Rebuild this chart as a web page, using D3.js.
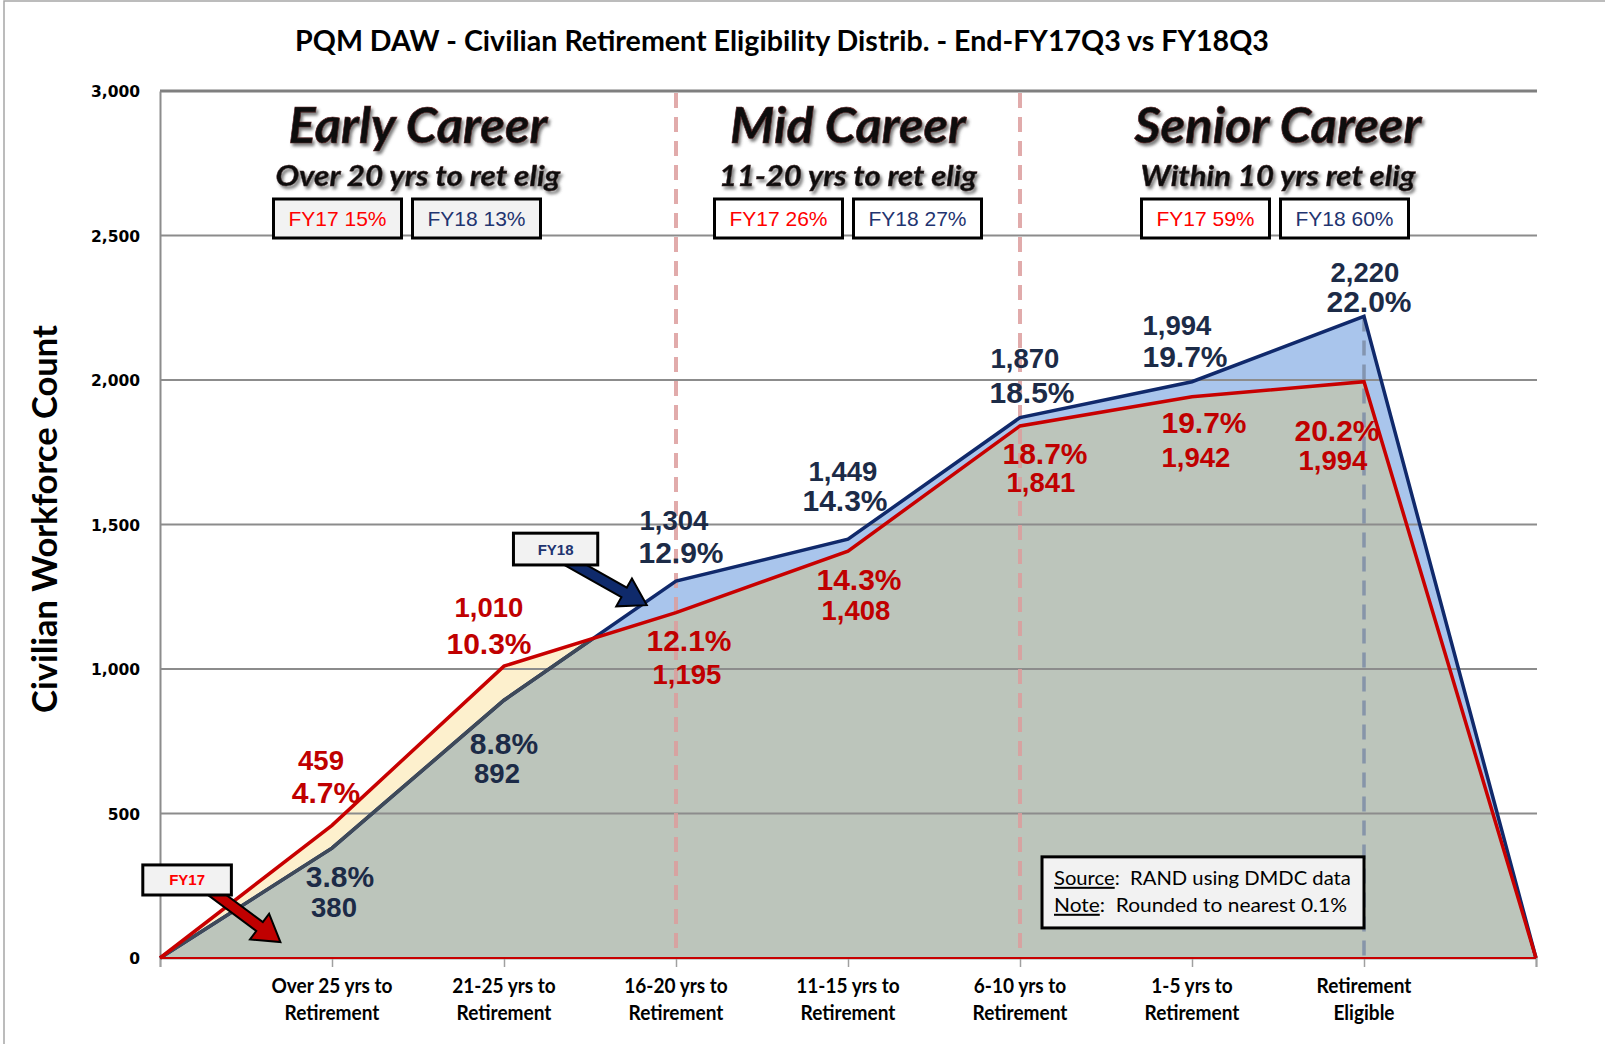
<!DOCTYPE html>
<html><head><meta charset="utf-8">
<script src="https://cdn.jsdelivr.net/npm/d3@7"></script>
<style>
html,body{margin:0;padding:0;background:#fff;overflow:hidden}
text{white-space:pre}
</style></head>
<body><svg id="chart" width="1605" height="1044"></svg>
<script>
// ---------------- DATA ----------------
const title = "PQM DAW - Civilian Retirement Eligibility Distrib. - End-FY17Q3 vs FY18Q3";
const yAxisTitle = "Civilian Workforce Count";
const categoryLabels = [
  [], ["Over 25 yrs to", "Retirement"], ["21-25 yrs to", "Retirement"], ["16-20 yrs to", "Retirement"],
  ["11-15 yrs to", "Retirement"], ["6-10 yrs to", "Retirement"], ["1-5 yrs to", "Retirement"],
  ["Retirement", "Eligible"], []
];
const fy17Counts = [0, 459, 1010, 1195, 1408, 1841, 1942, 1994, 0];
const fy18Counts = [0, 380, 892, 1304, 1449, 1870, 1994, 2220, 0];
const fy17Pct = [null, 4.7, 10.3, 12.1, 14.3, 18.7, 19.7, 20.2, null];
const fy18Pct = [null, 3.8, 8.8, 12.9, 14.3, 18.5, 19.7, 22.0, null];
const yTicks = [0, 500, 1000, 1500, 2000, 2500, 3000];
const bandNames = ["Early Career", "Mid Career", "Senior Career"];
const bandSubtitles = ["Over 20 yrs to ret elig", "11-20 yrs to ret elig", "Within 10 yrs ret elig"];
const bandFY17Share = [15, 26, 59];
const bandFY18Share = [13, 27, 60];
const bandBounds = [[0, 3], [3, 5], [5, 8]];
const sourceLines = [["Source", ":  RAND using DMDC data"], ["Note", ":  Rounded to nearest 0.1%"]];

// ---------------- LAYOUT ----------------
const W = 1605, H = 1044;
const plot = {left: 160, right: 1536, top: 91, bottom: 958};
// label offsets [dxCount, dyCount, dxPct, dyPct] relative to point
const fy17LabelOff = [null, [-11,-55,-6,-22], [-15,-49,-15,-12], [11,71,13,38], [8,69,11,39], [21,66,25,38], [4,70,12,36], [-31,88,-27,59], null];
const fy18LabelOff = [null, [2,69,8,39], [-7,83,0,54], [-2,-51,5,-18], [-5,-58,-3,-28], [5,-50,12,-15], [-15,-47,-7,-15], [1,-34,5,-4], null];
const bandBoxShift = [-11, 0, -3];

const C = {
  gray: "#bcc5bb", blue: "#a9c5ec", cream: "#fdf0cd",
  navy: "#10296b", slate: "#3f4a59", red: "#c80000",
  lblNavy: "#1c2b47", lblRed: "#c00000", grid: "#8c8c8c"
};

const svg = d3.select("#chart");
const defs = svg.append("defs");

const x = d3.scalePoint().domain(d3.range(fy17Counts.length)).range([plot.left, plot.right]);
const xi = d3.scaleLinear().domain([0, fy17Counts.length - 1]).range([plot.left, plot.right]);
const y = d3.scaleLinear().domain([0, 3000]).range([plot.bottom, plot.top]);

// outer border
svg.append("rect").attr("x", 4).attr("y", 1).attr("width", W + 10).attr("height", H + 10)
  .attr("fill", "none").attr("stroke", "#a6a6a6").attr("stroke-width", 1.5);

// title
function squeeze(sel, target) {
  const w = sel.node().getComputedTextLength();
  const cx = +sel.attr("x");
  const s = target / w;
  sel.attr("transform", `translate(${cx},0) scale(${s},1) translate(${-cx},0)`);
}
const t = svg.append("text").attr("x", 782).attr("y", 51).attr("text-anchor", "middle")
  .attr("font-family", "Lato, sans-serif").attr("font-weight", 700).attr("font-size", 28)
  .attr("fill", "#000").text(title);
squeeze(t, 974);

// areas
const area = vals => d3.area().x((d, i) => x(i)).y0(y(0)).y1(d => y(d))(vals);
const line = vals => d3.line().x((d, i) => x(i)).y(d => y(d))(vals);

defs.append("clipPath").attr("id", "clip18").append("path").attr("d", area(fy18Counts));
defs.append("clipPath").attr("id", "clip17").append("path").attr("d", area(fy17Counts));

svg.append("path").attr("d", area(fy17Counts)).attr("fill", C.cream);
svg.append("path").attr("d", area(fy18Counts)).attr("fill", C.blue);
svg.append("path").attr("d", area(fy17Counts)).attr("fill", C.gray).attr("clip-path", "url(#clip18)");

// gridlines
svg.append("g").selectAll("line").data(yTicks.filter(v => v > 0)).join("line")
  .attr("x1", plot.left).attr("x2", plot.right + 1)
  .attr("y1", d => y(d)).attr("y2", d => y(d))
  .attr("stroke", d => d === 3000 ? "#7f7f7f" : C.grid)
  .attr("stroke-width", d => d === 3000 ? 3 : 2);

// y axis
const yAxis = d3.axisLeft(y).tickValues(yTicks).tickFormat(d3.format(",")).tickSize(0).tickPadding(20);
const ya = svg.append("g").attr("transform", `translate(${plot.left},0)`).call(yAxis);
ya.select(".domain").attr("stroke", "#8c8c8c").attr("stroke-width", 2);
ya.selectAll("text").attr("font-family", "DejaVu Sans, Verdana, sans-serif").attr("font-weight", 700)
  .attr("font-size", 15.5).attr("fill", "#000").attr("dy", "0.36em");

// x axis
const xAxis = d3.axisBottom(x).tickSize(9).tickFormat("");
const xa = svg.append("g").attr("transform", `translate(0,${plot.bottom})`).call(xAxis);
xa.select(".domain").attr("stroke", "#a0a0a0").attr("stroke-width", 2);
xa.selectAll(".tick line").attr("stroke", "#a0a0a0").attr("stroke-width", 1.5);

const xl = svg.append("g").selectAll("text").data(categoryLabels).join("text")
  .attr("x", (d, i) => x(i)).attr("y", 993).attr("text-anchor", "middle")
  .attr("font-family", "Lato, sans-serif").attr("font-weight", 700).attr("font-size", 20.5).attr("fill", "#000");
xl.selectAll("tspan").data(d => d).join("tspan")
  .attr("x", function () { return d3.select(this.parentNode).attr("x"); })
  .attr("dy", (d, j) => j === 0 ? 0 : 27).text(d => d);
xl.each(function(){ const s=d3.select(this); const cx=+s.attr("x"); s.attr("transform",`translate(${cx},0) scale(0.93,1) translate(${-cx},0)`); });

// y axis title
svg.append("text").attr("transform", "translate(57,519) rotate(-90)").attr("text-anchor", "middle")
  .attr("font-family", "Lato, sans-serif").attr("font-weight", 700).attr("font-size", 31)
  .attr("fill", "#000").text(yAxisTitle)
  .each(function () { const w = this.getComputedTextLength(); d3.select(this).attr("font-size", 31 * 388 / w); });

// dashed band separators
svg.append("g").selectAll("line").data(bandBounds.slice(1).map(b => b[0])).join("line")
  .attr("x1", d => x(d)).attr("x2", d => x(d)).attr("y1", y(3000) + 2).attr("y2", y(0))
  .attr("stroke", "#dc9c9c").attr("stroke-opacity", 0.85).attr("stroke-width", 4).attr("stroke-dasharray", "15,9");
// drop line at peak
const peakIdx = 7;
svg.append("line").attr("x1", x(peakIdx)).attr("x2", x(peakIdx)).attr("y1", y(fy18Counts[peakIdx])).attr("y2", y(0))
  .attr("stroke", "#7c8ca6").attr("stroke-opacity", 0.85).attr("stroke-width", 3.5).attr("stroke-dasharray", "15,9");

// lines
svg.append("path").attr("d", line(fy18Counts)).attr("fill", "none").attr("stroke", C.navy)
  .attr("stroke-width", 3.5).attr("stroke-linejoin", "miter");
svg.append("path").attr("d", line(fy18Counts)).attr("fill", "none").attr("stroke", C.slate)
  .attr("stroke-width", 3.5).attr("clip-path", "url(#clip17)");
svg.append("path").attr("d", line(fy17Counts)).attr("fill", "none").attr("stroke", C.red)
  .attr("stroke-width", 3.5).attr("stroke-linejoin", "miter");
svg.append("line").attr("x1", plot.left).attr("x2", plot.right).attr("y1", y(0)).attr("y2", y(0))
  .attr("stroke", C.red).attr("stroke-width", 2);

// data labels
function labels(counts, pcts, offs, color) {
  const g = svg.append("g").attr("font-family", "Liberation Sans, Arial, sans-serif").attr("font-weight", 700)
    .attr("fill", color).attr("text-anchor", "middle");
  counts.forEach((v, i) => {
    if (pcts[i] == null) return;
    const o = offs[i];
    g.append("text").attr("x", x(i) + o[0]).attr("y", y(v) + o[1]).attr("font-size", 27.5).text(d3.format(",")(v));
    g.append("text").attr("x", x(i) + o[2]).attr("y", y(v) + o[3]).attr("font-size", 30).text(pcts[i].toFixed(1) + "%");
  });
}
labels(fy18Counts, fy18Pct, fy18LabelOff, C.lblNavy);
labels(fy17Counts, fy17Pct, fy17LabelOff, C.lblRed);

// band headers
const shadow = defs.append("filter").attr("id", "shadow").attr("x", "-10%").attr("y", "-20%").attr("width", "120%").attr("height", "150%");
shadow.append("feDropShadow").attr("dx", 2).attr("dy", 3).attr("stdDeviation", 1.6).attr("flood-color", "#555").attr("flood-opacity", 0.75);

const headerW = [259, 236, 287], subW = [285, 258, 275];
bandNames.forEach((name, k) => {
  const cx = (x(bandBounds[k][0]) + x(bandBounds[k][1])) / 2;
  const h = svg.append("text").attr("x", cx).attr("y", 143).attr("text-anchor", "middle")
    .attr("font-family", "Lato, sans-serif").attr("font-weight", 700).attr("font-style", "italic")
    .attr("font-size", 49).attr("fill", "#111").attr("stroke", "#5a1a1a").attr("stroke-width", 0.6)
    .attr("filter", "url(#shadow)").text(name);
  squeeze(h, headerW[k]);
  const s = svg.append("text").attr("x", cx).attr("y", 186).attr("text-anchor", "middle")
    .attr("font-family", "Lato, sans-serif").attr("font-weight", 700).attr("font-style", "italic")
    .attr("font-size", 28).attr("fill", "#111").attr("stroke", "#3a1a1a").attr("stroke-width", 0.4)
    .attr("filter", "url(#shadow)").text(bandSubtitles[k]);
  squeeze(s, subW[k]);
  const bw = 128, gap = 11, bh = 39, by = 199;
  const pc = cx + bandBoxShift[k];
  const fill = k === 0 ? "#f2f2f2" : "#fff";
  [[`FY17 ${bandFY17Share[k]}%`, "#ff0000"], [`FY18 ${bandFY18Share[k]}%`, "#1f3470"]].forEach((b, j) => {
    const bx = j === 0 ? pc - gap / 2 - bw : pc + gap / 2;
    svg.append("rect").attr("x", bx).attr("y", by).attr("width", bw).attr("height", bh)
      .attr("fill", fill).attr("stroke", "#000").attr("stroke-width", 3);
    svg.append("text").attr("x", bx + bw / 2).attr("y", by + bh / 2 + 7.5).attr("text-anchor", "middle")
      .attr("font-family", "Liberation Sans, Arial, sans-serif").attr("font-size", 21).attr("fill", b[1]).text(b[0]);
  });
});

// callout arrows
function arrowPts(x1, y1, x2, y2, sw, hw, hl) {
  const dx = x2 - x1, dy = y2 - y1, L = Math.hypot(dx, dy), ux = dx / L, uy = dy / L, px = -uy, py = ux;
  const bx = x2 - ux * hl, by = y2 - uy * hl;
  return [[x1 + px * sw / 2, y1 + py * sw / 2], [bx + px * sw / 2, by + py * sw / 2], [bx + px * hw / 2, by + py * hw / 2],
    [x2, y2], [bx - px * hw / 2, by - py * hw / 2], [bx - px * sw / 2, by - py * sw / 2], [x1 - px * sw / 2, y1 - py * sw / 2]];
}
const callouts = [
  {label: "FY17", color: "#ff0000", fill: "#c00000", box: [-0.1, 0.415, 322, 218], from: [0.26, 250], to: [0.70, 55]},
  {label: "FY18", color: "#1f3470", fill: "#0f2a6b", box: [2.055, 2.545, 1470, 1360], from: [2.355, 1380], to: [2.83, 1221]}
];
callouts.forEach(c => {
  const pts = arrowPts(xi(c.from[0]), y(c.from[1]), xi(c.to[0]), y(c.to[1]), 11, 32, 26);
  svg.append("polygon").attr("points", pts.map(p => p.join(",")).join(" "))
    .attr("fill", c.fill).attr("stroke", "#000").attr("stroke-width", 2).attr("stroke-linejoin", "miter");
  const bx0 = xi(c.box[0]), bx1 = xi(c.box[1]), by0 = y(c.box[2]), by1 = y(c.box[3]);
  svg.append("rect").attr("x", bx0).attr("y", by0).attr("width", bx1 - bx0).attr("height", by1 - by0)
    .attr("fill", "#f2f2f2").attr("stroke", "#000").attr("stroke-width", 3);
  svg.append("text").attr("x", (bx0 + bx1) / 2).attr("y", (by0 + by1) / 2 + 5.5).attr("text-anchor", "middle")
    .attr("font-family", "Liberation Sans, Arial, sans-serif").attr("font-weight", 700).attr("font-size", 15)
    .attr("fill", c.color).text(c.label);
});

// source box
const sx0 = xi(5.128), sx1 = x(7), sy0 = y(350), sy1 = y(104);
svg.append("rect").attr("x", sx0).attr("y", sy0).attr("width", sx1 - sx0).attr("height", sy1 - sy0)
  .attr("fill", "#f2f2f2").attr("stroke", "#000").attr("stroke-width", 3);
sourceLines.forEach((ln, k) => {
  const tx = svg.append("text").attr("x", sx0 + 12).attr("y", sy0 + 28 + k * 27)
    .attr("font-family", "Lato, sans-serif").attr("font-size", 20).attr("fill", "#000");
  tx.append("tspan").attr("text-decoration", "underline").text(ln[0]);
  tx.append("tspan").text(ln[1]);
  const w = tx.node().getComputedTextLength();
  const target = k === 0 ? 297 : 293;
  const cx = sx0 + 12;
  tx.attr("transform", `translate(${cx},0) scale(${target / w},1) translate(${-cx},0)`);
});
</script>
</body></html>
